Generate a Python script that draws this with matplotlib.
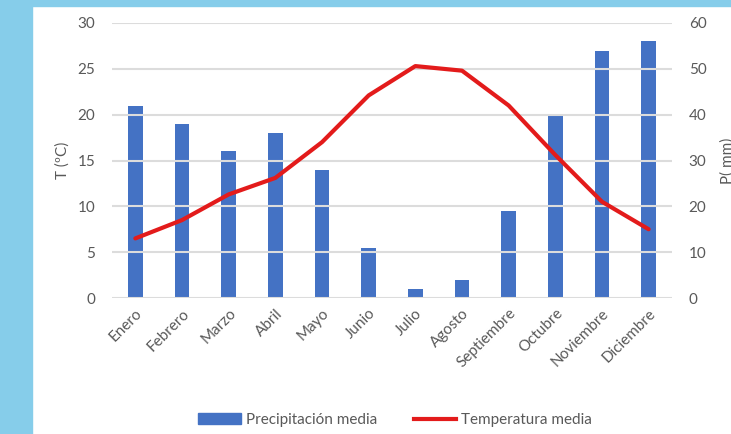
import matplotlib.pyplot as plt
import matplotlib.patches as mpatches
from matplotlib.lines import Line2D

# Climograma: precipitación (barras, eje derecho) y temperatura (línea, eje izquierdo)
meses = ['Enero', 'Febrero', 'Marzo', 'Abril', 'Mayo', 'Junio', 'Julio',
         'Agosto', 'Septiembre', 'Octubre', 'Noviembre', 'Diciembre']
precipitacion = [42, 38, 32, 36, 28, 11, 2, 4, 19, 40, 54, 56]
temperatura = [6.5, 8.5, 11.3, 13.1, 17.0, 22.1, 25.3, 24.8, 21.0, 15.6, 10.5, 7.5]

gris = '#595959'
plt.rcParams['font.family'] = ['Lato', 'DejaVu Sans']

fig = plt.figure(figsize=(7.31, 4.34), dpi=100)
fig.patch.set_facecolor('white')

# marco azul de la página
fig.patches.append(mpatches.Rectangle((0, 0), 32 / 731, 1, transform=fig.transFigure,
                                      color='#86cdea', zorder=0))
fig.patches.append(mpatches.Rectangle((0, 1 - 6 / 434), 1, 6 / 434, transform=fig.transFigure,
                                      color='#86cdea', zorder=0))

ax = fig.add_axes([112 / 731, 1 - 298 / 434, 560 / 731, 275 / 434])
ax2 = ax.twinx()

x = range(len(meses))
ax2.bar(x, precipitacion, width=0.31, color='#4472c4', zorder=2)
ax.plot(x, temperatura, color='#e31b1b', lw=3, zorder=3, solid_capstyle='round')

ax.set_zorder(ax2.get_zorder() + 1)
ax.patch.set_visible(False)

ax.set_ylim(0, 30)
ax2.set_ylim(0, 60)
ax.set_xlim(-0.5, 11.5)
ax.set_yticks(range(0, 31, 5))
ax2.set_yticks(range(0, 61, 10))

for a in (ax, ax2):
    for s in a.spines.values():
        s.set_visible(False)
    a.tick_params(length=0, labelsize=11, colors=gris, pad=12)

ax.yaxis.grid(True, color='#dcdcdc', lw=1.5, zorder=0)
ax.set_axisbelow(True)

ax.set_xticks(list(x))
ax.set_xticklabels(meses, rotation=45, ha='right', rotation_mode='anchor')
ax.tick_params(axis='x', pad=6)

ax.set_ylabel('T (ºC)', fontsize=11, color=gris, labelpad=6)
ax2.set_ylabel('P( mm)', fontsize=11, color=gris, labelpad=10)

handles = [mpatches.Patch(color='#4472c4'),
           Line2D([0], [0], color='#e31b1b', lw=3)]
fig.legend(handles, ['Precipitación media', 'Temperatura media'],
           loc='center', bbox_to_anchor=(395 / 731, 1 - 420 / 434), ncol=2,
           frameon=False, fontsize=11, labelcolor=gris, handlelength=2.8,
           handletextpad=0.3, columnspacing=2.4)

plt.savefig('out.png', dpi=100)
